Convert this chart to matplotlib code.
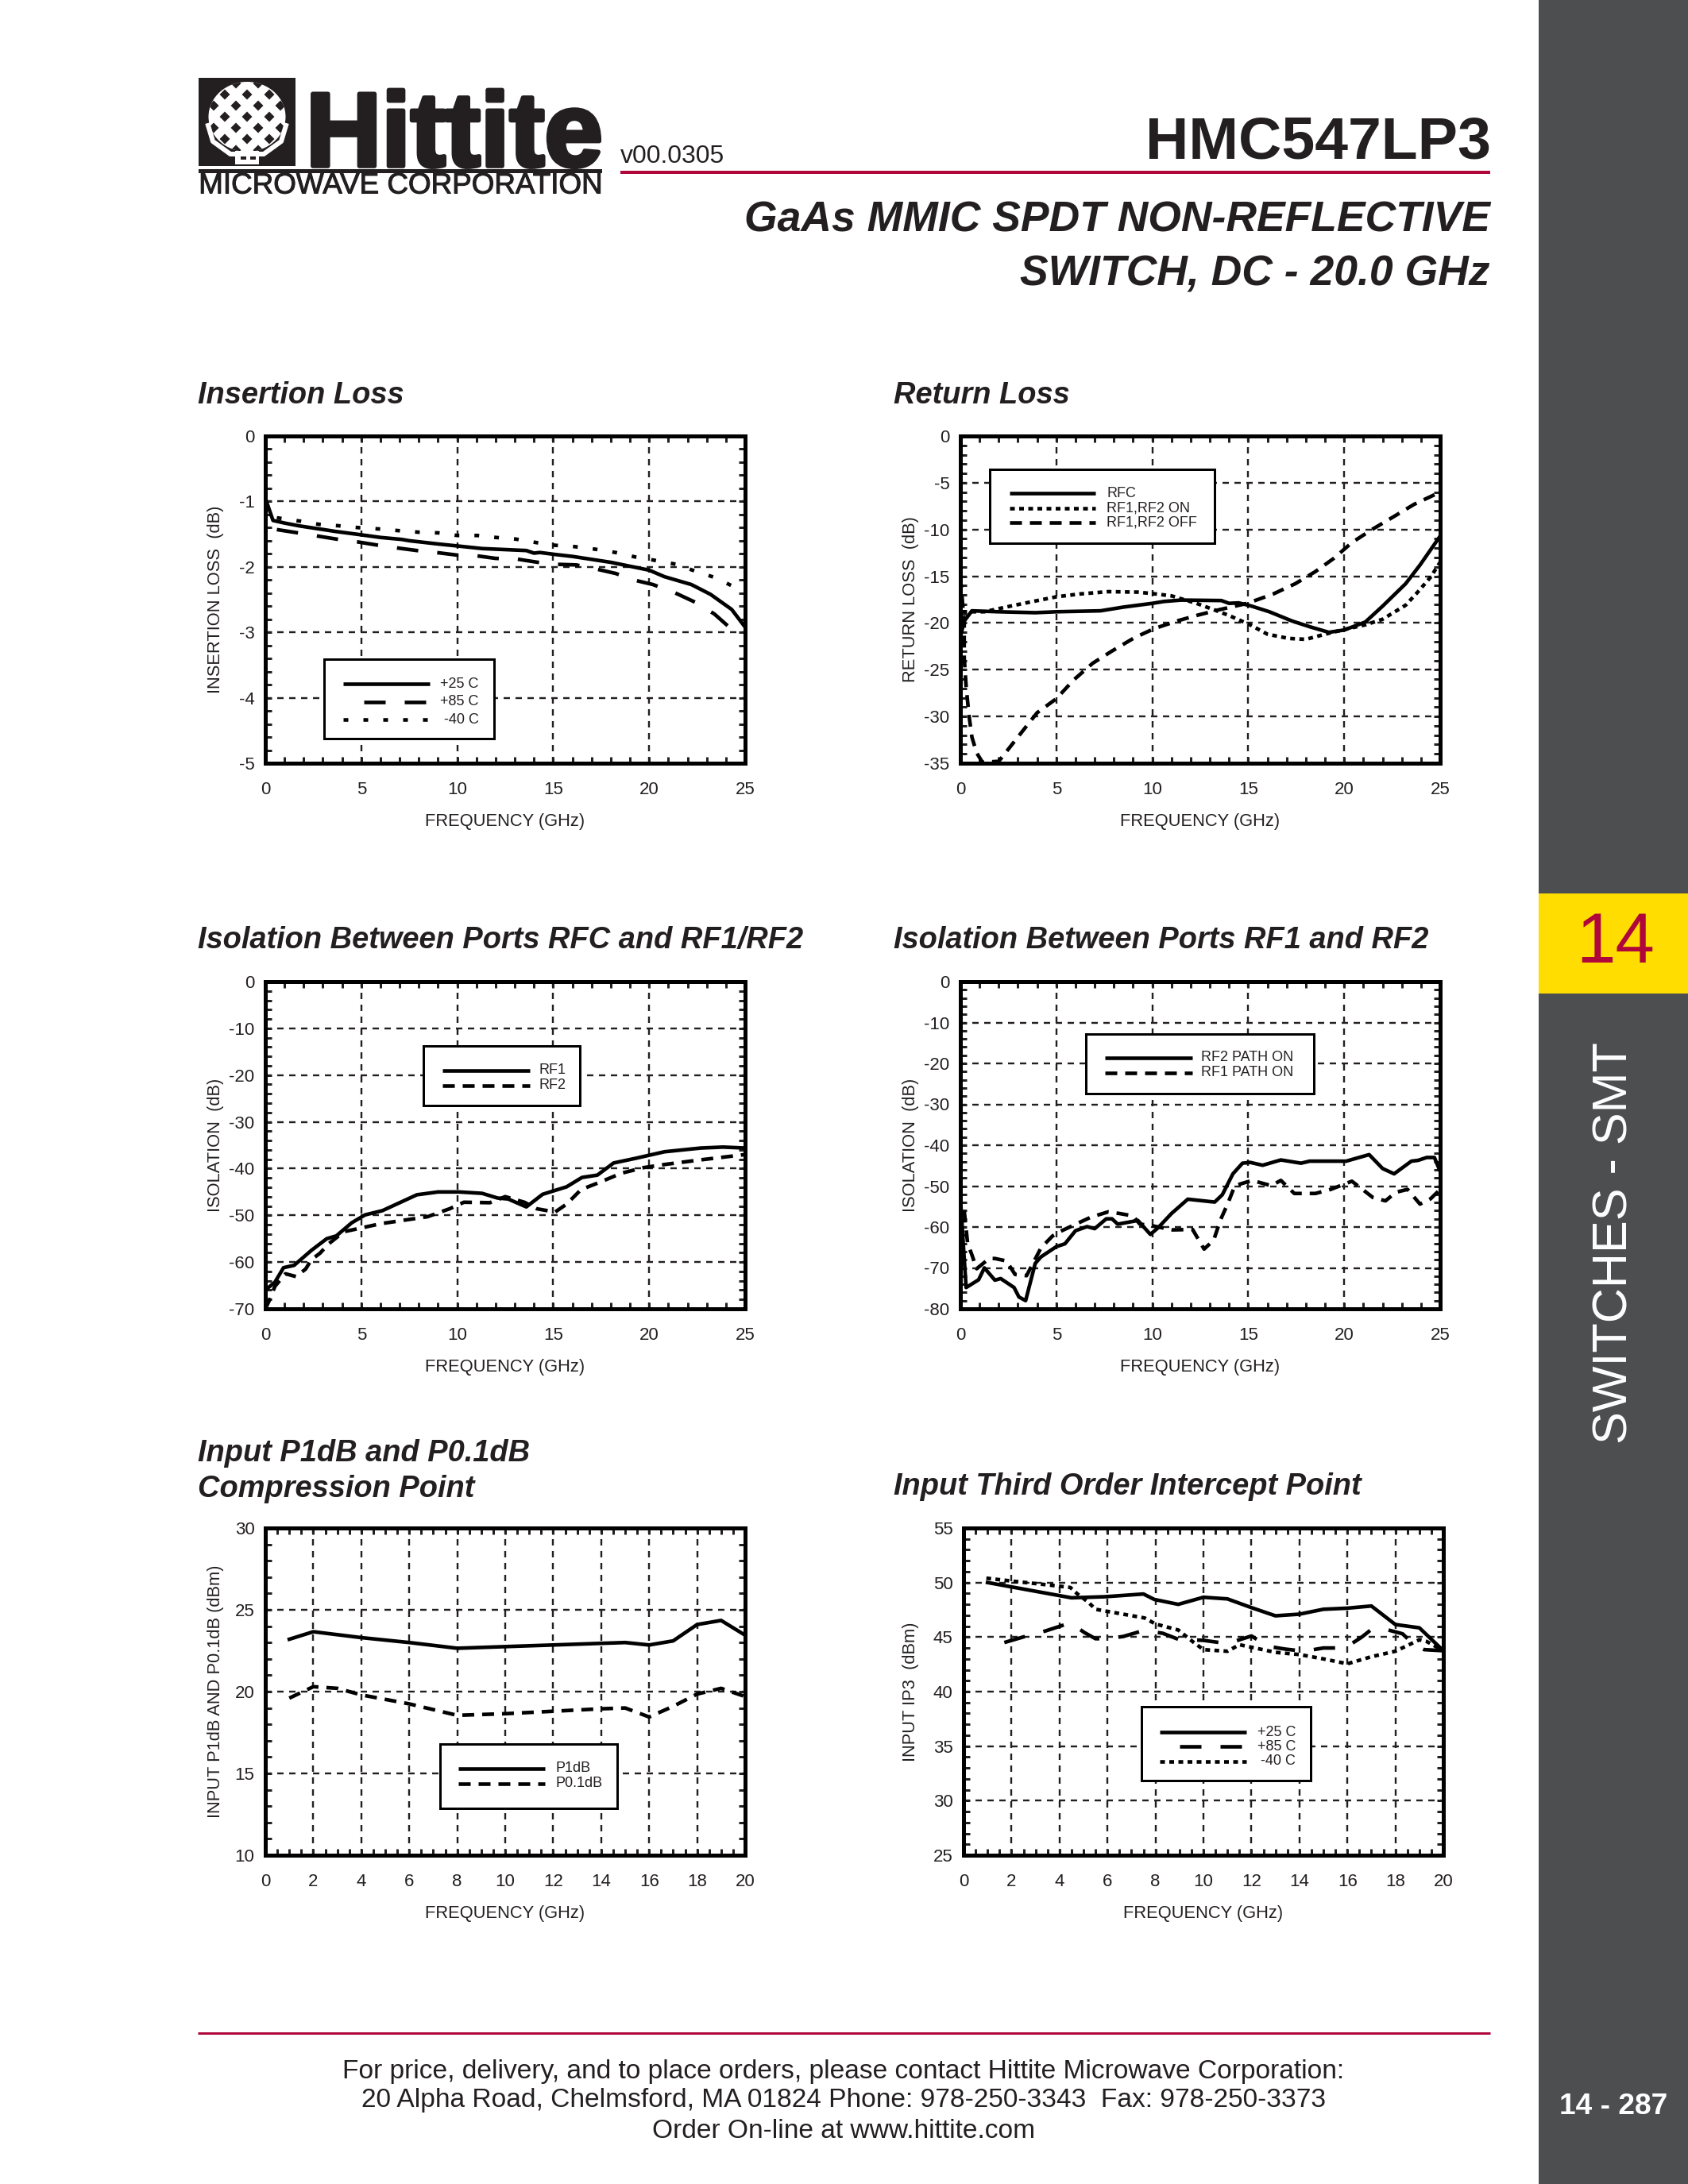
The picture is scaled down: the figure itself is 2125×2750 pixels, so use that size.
import matplotlib
matplotlib.use("Agg")
import matplotlib.pyplot as plt
from matplotlib.patches import Rectangle, Ellipse, Polygon
from matplotlib.ticker import MultipleLocator
import matplotlib.patheffects as pe

plt.rcParams['font.family'] = ['Liberation Sans', 'DejaVu Sans']
plt.rcParams['lines.scale_dashes'] = False
plt.rcParams['axes.unicode_minus'] = False

W, H = 2125, 2750
DPI = 250
PT = 72.0 / DPI  # one pixel in points

INK = '#231F20'
RED = '#B0073A'
GREY = '#4D4E50'
YELLOW = '#FFDD00'

# insertion loss
il_25_f = [0, 0.4, 1.0, 1.8, 3.7, 5.0, 6.0, 7.1, 7.5, 9.0, 10.0, 11.3, 13.6, 14.0, 14.3, 15.1, 16.0, 18.0, 20.0, 20.8, 22.2, 23.2, 24.3, 25.0]
il_25 = [-0.95, -1.29, -1.33, -1.375, -1.46, -1.51, -1.55, -1.58, -1.6, -1.65, -1.68, -1.72, -1.75, -1.79, -1.78, -1.81, -1.84, -1.93, -2.05, -2.15, -2.27, -2.42, -2.65, -2.92]
il_85_f = [0.6, 1.7, 2.75, 3.7, 4.85, 5.9, 6.85, 7.9, 8.9, 10.0, 11.0, 12.0, 13.1, 14.2, 15.1, 16.2, 17.2, 18.25, 19.2, 20.2, 21.3, 22.4, 23.4, 24.4]
il_85 = [-1.43, -1.48, -1.53, -1.575, -1.62, -1.67, -1.71, -1.75, -1.78, -1.82, -1.83, -1.87, -1.88, -1.93, -1.96, -1.97, -2.03, -2.1, -2.2, -2.27, -2.39, -2.54, -2.72, -2.98]
il_m40_f = [0.6, 1.8, 2.8, 3.75, 4.85, 5.9, 6.9, 8.0, 9.0, 10.0, 11.05, 12.0, 13.05, 14.15, 15.1, 16.1, 17.2, 18.25, 19.3, 20.3, 21.4, 22.45, 23.5, 24.45]
il_m40 = [-1.25, -1.3, -1.35, -1.37, -1.4, -1.42, -1.445, -1.47, -1.48, -1.52, -1.52, -1.55, -1.575, -1.63, -1.67, -1.69, -1.73, -1.78, -1.85, -1.9, -1.96, -2.07, -2.17, -2.31]

# return loss
rl_c_f = [0, 0.2, 0.6, 2.0, 3.9, 5.0, 7.3, 8.5, 10.0, 10.6, 11.5, 13.6, 14.0, 14.5, 15.1, 16.1, 17.3, 18.2, 19.2, 20.0, 21.1, 22.0, 23.2, 23.95, 25.0]
rl_c = [-21.5, -19.8, -18.7, -18.8, -18.9, -18.8, -18.7, -18.3, -17.9, -17.7, -17.55, -17.6, -17.9, -17.85, -18.15, -18.8, -19.8, -20.4, -21.0, -20.75, -19.9, -18.2, -15.8, -13.8, -10.7]
rl_on_f = [0.1, 1.25, 2.6, 3.9, 5.0, 6.2, 7.7, 9.25, 10.2, 11.0, 12.3, 13.1, 14.0, 15.1, 16.0, 17.1, 18.0, 19.2, 20.1, 21.1, 22.0, 23.2, 23.85, 24.5, 25.0]
rl_on = [-18.8, -18.8, -18.2, -17.65, -17.2, -16.9, -16.65, -16.7, -16.9, -17.1, -17.9, -18.5, -19.2, -20.2, -21.2, -21.65, -21.75, -21.1, -20.65, -20.2, -19.6, -18.1, -16.65, -15.1, -13.5]
rl_off_f = [0, 0.2, 0.2, 0.3, 0.45, 0.6, 0.85, 1.15, 2.0, 3.15, 4.0, 5.0, 5.9, 6.9, 7.9, 9.05, 10.1, 11.35, 12.3, 13.45, 14.95, 16.3, 17.45, 18.5, 19.45, 20.4, 21.45, 22.6, 23.65, 25.0]
rl_off = [-15, -20, -23.7, -26.8, -29.9, -32.2, -33.9, -34.9, -34.8, -31.8, -29.6, -28.1, -26.1, -24.3, -23, -21.6, -20.6, -19.75, -19.2, -18.6, -17.9, -16.9, -15.8, -14.5, -13.1, -11.4, -10, -8.6, -7.3, -6]

# isolation rfc - rf1/rf2
iso_rf1_f = [0, 0.5, 0.95, 1.5, 2.4, 3.2, 3.7, 4.5, 5.2, 6.1, 7.9, 9.0, 10.1, 11.3, 12.1, 12.65, 13.6, 14.45, 15.7, 16.5, 17.3, 18.15, 19.3, 20.8, 22.7, 23.85, 25.0]
iso_rf1 = [-66, -64.3, -61.2, -60.7, -57.5, -55, -54.4, -51.6, -49.9, -49, -45.6, -45, -45, -45.3, -46.3, -46.5, -48.2, -45.5, -43.9, -41.9, -41.4, -38.8, -37.8, -36.4, -35.6, -35.4, -35.6]
iso_rf2_f = [0, 0.2, 0.5, 1.05, 1.6, 2.1, 2.4, 2.85, 3.3, 4.1, 5.0, 6.0, 7.3, 8.45, 9.6, 10.35, 11.7, 12.5, 13.5, 14.15, 15.1, 15.7, 16.45, 17.5, 18.55, 19.7, 20.85, 22.55, 25.0]
iso_rf2 = [-70, -68.3, -65.2, -62.5, -63.1, -61.5, -59.5, -58.1, -56.1, -53.5, -52.7, -51.8, -51, -50.3, -48.6, -47.2, -47.3, -46, -47.2, -48.6, -49.3, -47.6, -44.5, -42.8, -41, -39.8, -39.1, -38.2, -37]

# isolation rf1 - rf2
pp_rf2_f = [0, 0.2, 0.3, 0.95, 1.25, 1.8, 2.1, 2.8, 3.05, 3.4, 3.9, 4.2, 5.0, 5.45, 6.0, 6.6, 7.0, 7.6, 7.9, 8.2, 9.25, 9.9, 10.3, 11.0, 11.85, 13.25, 13.65, 14.2, 14.7, 15.1, 15.75, 16.7, 17.75, 18.2, 20.1, 21.3, 22.0, 22.6, 23.5, 23.85, 24.3, 24.7, 25.0]
pp_rf2 = [-52.8, -67.7, -74.8, -72.9, -70, -73, -72.6, -74.8, -77.1, -78, -68.9, -67.3, -64.8, -64.1, -60.9, -59.9, -60.4, -58, -58, -59.3, -58.4, -61.8, -60.2, -56.7, -53.2, -53.9, -52.1, -47, -44.4, -44.2, -44.9, -43.6, -44.4, -43.9, -43.9, -42.3, -45.7, -47, -43.9, -43.7, -43, -43, -46.4]
pp_rf1_f = [0.2, 0.38, 0.57, 0.85, 1.5, 1.8, 2.4, 2.85, 3.45, 4.2, 4.8, 5.15, 6.2, 6.8, 7.7, 8.3, 9.0, 9.35, 9.9, 11.05, 12.1, 12.7, 13.2, 13.55, 13.95, 14.3, 15.2, 16.2, 16.7, 17.4, 18.5, 19.3, 20.4, 21.5, 22.15, 22.7, 23.3, 23.95, 24.5, 25.0]
pp_rf1 = [-56, -64.1, -66.4, -70.2, -67.7, -67.7, -68.3, -71.6, -71.9, -65.1, -62.2, -61.2, -58.9, -57.6, -56.3, -56.7, -57.3, -59.3, -59.6, -60.7, -60.6, -65.4, -63.2, -58.3, -54.1, -49.9, -48.6, -49.9, -48.6, -51.8, -51.8, -50.8, -48.8, -52.8, -53.6, -51.5, -50.8, -54.4, -53.1, -50.8]

# compression
p1_f = [1, 2, 4, 6, 8, 10, 12, 14, 15, 16, 17, 18, 19, 20]
p1 = [23.2, 23.66, 23.3, 23.0, 22.65, 22.75, 22.85, 22.95, 23.0, 22.85, 23.1, 24.1, 24.35, 23.45]
p01_f = [1, 2, 3, 4, 6, 8, 10, 12, 14, 15, 16, 17, 18, 19, 20]
p01 = [19.6, 20.3, 20.2, 19.8, 19.25, 18.55, 18.65, 18.8, 18.95, 19.0, 18.45, 19.1, 19.85, 20.2, 19.7]

# ip3
ip_25_f = [1, 2, 4.5, 5.9, 7.5, 7.95, 8.95, 10, 11, 12, 13, 14, 15, 16, 17, 18, 19, 20]
ip_25 = [50, 49.6, 48.6, 48.7, 48.95, 48.45, 48, 48.65, 48.5, 47.7, 46.95, 47.1, 47.55, 47.65, 47.85, 46.15, 45.85, 43.75]
ip_85_f = [1.7, 2.55, 3.4, 4.45, 5.05, 5.5, 5.9, 6.65, 7.5, 8.3, 8.95, 10, 11, 12, 12.7, 13.4, 14.2, 15, 15.9, 16.6, 17, 17.45, 18.3, 18.8, 19.2, 20]
ip_85 = [44.5, 45.05, 45.55, 46.3, 45.4, 44.85, 44.85, 45.05, 45.6, 45.35, 44.8, 44.7, 44.4, 45.1, 44.15, 43.9, 43.7, 44, 44, 45, 45.7, 45.8, 45.3, 44.25, 43.85, 43.75]
ip_m40_f = [0.95, 1.95, 3.45, 4.45, 4.75, 5.2, 5.5, 7.55, 8, 8.95, 9.6, 10, 11, 11.5, 13, 14, 15, 16, 17, 18, 19, 19.3, 20]
ip_m40 = [50.4, 50.15, 49.8, 49.55, 48.95, 48.2, 47.55, 46.75, 46.2, 45.65, 44.5, 43.85, 43.7, 44.3, 43.6, 43.4, 43, 42.55, 43.2, 43.7, 44.75, 44.6, 43.75]

footer_lines = [
    "For price, delivery, and to place orders, please contact Hittite Microwave Corporation:",
    "20 Alpha Road, Chelmsford, MA 01824 Phone: 978-250-3343  Fax: 978-250-3373",
    "Order On-line at www.hittite.com",
]

SOLID = '-'
LONG = (0, (27 * PT, 24 * PT))
SHORT = (0, (15 * PT, 10 * PT))
FINE = (0, (6 * PT, 5.5 * PT))
SPARSE = (0, (6 * PT, 19 * PT))
LW = 4.6 * PT


def make_axes(fig, left, top, right, bottom, xmax, xmajor, xminor, ymin, ymax, ymajor, yminor, ylabel, label_x):
    ax = fig.add_axes([left / W, 1 - bottom / H, (right - left) / W, (bottom - top) / H], zorder=2)
    ax.set_xlim(0, xmax)
    ax.set_ylim(ymin, ymax)
    ax.xaxis.set_major_locator(MultipleLocator(xmajor))
    ax.xaxis.set_minor_locator(MultipleLocator(xminor))
    ax.yaxis.set_major_locator(MultipleLocator(ymajor))
    ax.yaxis.set_minor_locator(MultipleLocator(yminor))
    ax.tick_params(which='both', direction='in', top=True, right=True, length=8 * PT, width=3 * PT, color=INK)
    ax.tick_params(which='major', labelsize=6.4, labelcolor=INK)
    ax.tick_params(axis='x', which='major', pad=6.6)
    ax.tick_params(axis='y', which='major', pad=3.9)
    ax.grid(True, which='major', color=INK, lw=2.4 * PT, ls=(0, (8 * PT, 7 * PT)))
    ax.set_axisbelow(True)
    for s in ax.spines.values():
        s.set_linewidth(5 * PT)
        s.set_color('black')
    ax.set_xlabel("FREQUENCY (GHz)", fontsize=6.3, color=INK, labelpad=5.5)
    ax.set_ylabel(ylabel, fontsize=6.3, color=INK)
    ax.yaxis.set_label_coords((label_x - left) / (right - left), 0.5)
    return ax


def legend_box(ax, box, xs, ys, text_x, ha, entries):
    x0, x1, y0, y1 = box
    ax.add_patch(Rectangle((x0, 1 - y1), x1 - x0, y1 - y0, transform=ax.transAxes,
                           fc='white', ec='black', lw=3 * PT, zorder=5))
    for (label, ls, lx), y in zip(entries, ys):
        ax.plot(lx if lx else xs, [1 - y, 1 - y], transform=ax.transAxes, color='black',
                lw=LW, ls=ls, zorder=6, solid_capstyle='butt', dash_capstyle='butt')
        ax.text(text_x, 1 - y, label, transform=ax.transAxes, fontsize=5.2, color=INK,
                ha=ha, va='center', zorder=6)


fig = plt.figure(figsize=(W / DPI, H / DPI), dpi=DPI, facecolor='white')

page = fig.add_axes([0, 0, 1, 1], zorder=1)
page.set_xlim(0, W)
page.set_ylim(H, 0)
page.axis('off')

# side bar
page.add_patch(Rectangle((1937, 0), W - 1937, H, fc=GREY, ec='none'))
page.add_patch(Rectangle((1937, 1125), W - 1937, 126, fc=YELLOW, ec='none'))
page.text(2034, 1189, "14", fontsize=25.6, color=RED, ha='center', va='center')
page.text(2033, 1565, "SWITCHES - SMT", fontsize=17.6, color='white', rotation=90, ha='center', va='center')
page.text(2031, 2653, "14 - 287", fontsize=10.7, fontweight='bold', color='white', ha='center', va='center')

# logo
page.add_patch(Rectangle((250, 98), 122, 111, fc=INK, ec='none'))
dome = Ellipse((311, 147), 97, 88, fc='white', ec='none')
page.add_patch(dome)
for i in range(-4, 5):
    for j in range(-4, 5):
        cx, cy = 311 + i * 14, 147 + j * 14
        if (i + j) % 2 == 0:
            d = Polygon([(cx - 6.5, cy), (cx, cy - 6.5), (cx + 6.5, cy), (cx, cy + 6.5)], fc=INK, ec='none')
            page.add_patch(d)
            d.set_clip_path(dome)
page.plot([262, 268, 290, 332, 354, 360], [158, 178, 194, 194, 178, 158], color='white', lw=6 * PT)
page.add_patch(Rectangle((296, 190), 30, 17, fc='white', ec='none'))
page.add_patch(Rectangle((303, 195), 7, 6, fc=INK, ec='none'))
page.add_patch(Rectangle((315, 195), 7, 6, fc=INK, ec='none'))
page.text(385, 209, "Hittite", fontsize=38, fontweight='bold', color=INK, ha='left', va='baseline',
          path_effects=[pe.withStroke(linewidth=1.6, foreground=INK)])
page.add_patch(Rectangle((250, 213), 508, 5, fc=INK, ec='none'))
page.text(504, 234, "MICROWAVE CORPORATION", fontsize=10.6, color=INK, ha='center', va='center',
          path_effects=[pe.withStroke(linewidth=0.3, foreground=INK)])

# header
page.text(781, 197, "v00.0305", fontsize=9.2, color=INK, ha='left', va='center')
page.plot([781, 1876], [217, 217], color=RED, lw=4 * PT, solid_capstyle='butt')
page.text(1877, 180, "HMC547LP3", fontsize=21.7, fontweight='bold', color=INK, ha='right', va='center')
page.text(1876, 277, "GaAs MMIC SPDT NON-REFLECTIVE", fontsize=15.4, fontweight='bold', fontstyle='italic',
          color=INK, ha='right', va='center')
page.text(1876, 345, "SWITCH, DC - 20.0 GHz", fontsize=15.4, fontweight='bold', fontstyle='italic',
          color=INK, ha='right', va='center')

# chart titles
for x, y, t in [(249, 498, "Insertion Loss"), (1125, 498, "Return Loss"),
                (249, 1184, "Isolation Between Ports RFC and RF1/RF2"),
                (1125, 1184, "Isolation Between Ports RF1 and RF2"),
                (249, 1830, "Input P1dB and P0.1dB"), (249, 1875, "Compression Point"),
                (1125, 1872, "Input Third Order Intercept Point")]:
    page.text(x, y, t, fontsize=10.95, fontweight='bold', fontstyle='italic', color=INK, ha='left', va='center')

# footer
page.plot([249, 1876], [2560, 2560], color=RED, lw=3 * PT, solid_capstyle='butt')
for y, t in zip([2608, 2645, 2684], footer_lines):
    page.text(1062, y, t, fontsize=9.65, color=INK, ha='center', va='center')

# charts
ax1 = make_axes(fig, 334, 549, 938, 961, 25, 5, 1, -5, 0, 1, 0.2, "INSERTION LOSS  (dB)", 282)
ax1.plot(il_25_f, il_25, color='black', lw=LW)
ax1.plot(il_85_f, il_85, color='black', lw=LW, ls=LONG)
ax1.plot(il_m40_f, il_m40, color='black', lw=LW, ls=SPARSE)
legend_box(ax1, (.123, .477, .683, .925), [.163, .342], [.758, .812, .867], .445, 'right',
           [("+25 C", SOLID, None), ("+85 C", LONG, [.205, .335]), ("-40 C", SPARSE, None)])

ax2 = make_axes(fig, 1209, 549, 1813, 961, 25, 5, 1, -35, 0, 5, 1, "RETURN LOSS  (dB)", 1157)
ax2.plot(rl_c_f, rl_c, color='black', lw=LW)
ax2.plot(rl_on_f, rl_on, color='black', lw=LW, ls=FINE)
ax2.plot(rl_off_f, rl_off, color='black', lw=LW, ls=SHORT)
legend_box(ax2, (.061, .529, .101, .327), [.103, .282], [.175, .220, .265], .305, 'left',
           [("RFC", SOLID, None), ("RF1,RF2 ON", FINE, None), ("RF1,RF2 OFF", SHORT, None)])

ax3 = make_axes(fig, 334, 1236, 938, 1648, 25, 5, 1, -70, 0, 10, 2, "ISOLATION  (dB)", 282)
ax3.plot(iso_rf1_f, iso_rf1, color='black', lw=LW)
ax3.plot(iso_rf2_f, iso_rf2, color='black', lw=LW, ls=SHORT)
legend_box(ax3, (.329, .656, .197, .379), [.369, .551], [.271, .317], .57, 'left',
           [("RF1", SOLID, None), ("RF2", SHORT, None)])

ax4 = make_axes(fig, 1209, 1236, 1813, 1648, 25, 5, 1, -80, 0, 10, 2, "ISOLATION  (dB)", 1157)
ax4.plot(pp_rf2_f, pp_rf2, color='black', lw=LW)
ax4.plot(pp_rf1_f, pp_rf1, color='black', lw=LW, ls=SHORT)
legend_box(ax4, (.261, .737, .160, .342), [.302, .483], [.233, .279], .502, 'left',
           [("RF2 PATH ON", SOLID, None), ("RF1 PATH ON", SHORT, None)])

ax5 = make_axes(fig, 334, 1924, 938, 2336, 20, 2, 0.5, 10, 30, 5, 1, "INPUT P1dB AND P0.1dB (dBm)", 282)
ax5.plot(p1_f, p1, color='black', lw=LW)
ax5.plot(p01_f, p01, color='black', lw=LW, ls=SHORT)
legend_box(ax5, (.365, .734, .661, .857), [.403, .583], [.735, .781], .605, 'left',
           [("P1dB", SOLID, None), ("P0.1dB", SHORT, None)])

ax6 = make_axes(fig, 1213, 1924, 1817, 2336, 20, 2, 0.5, 25, 55, 5, 1, "INPUT IP3  (dBm)", 1157)
ax6.plot(ip_25_f, ip_25, color='black', lw=LW)
ax6.plot(ip_85_f, ip_85, color='black', lw=LW, ls=LONG)
ax6.plot(ip_m40_f, ip_m40, color='black', lw=LW, ls=FINE)
legend_box(ax6, (.371, .723, .547, .772), [.409, .590], [.624, .668, .713], .692, 'right',
           [("+25 C", SOLID, None), ("+85 C", LONG, [.451, .582]), ("-40 C", FINE, None)])

fig.savefig("out.png", dpi=DPI)
